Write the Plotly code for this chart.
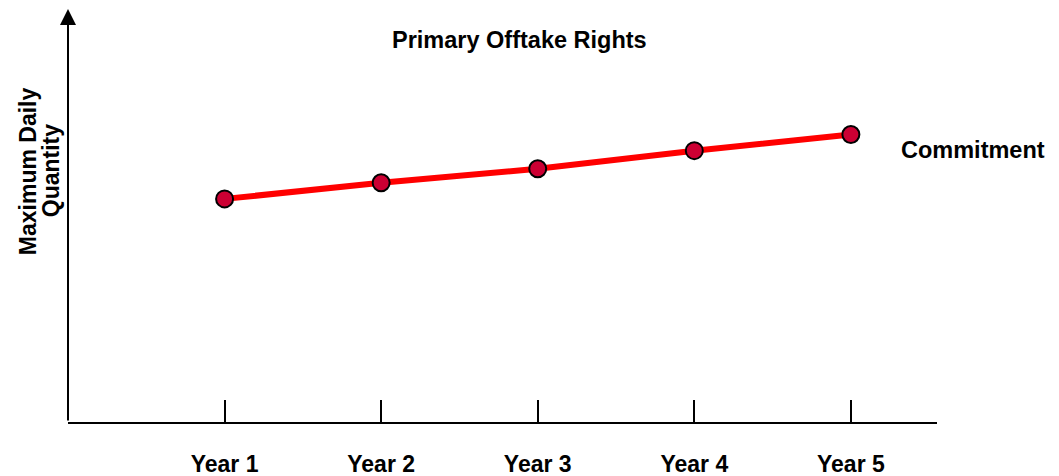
import plotly.graph_objects as go

years = [1, 2, 3, 4, 5]
year_labels = ["Year 1", "Year 2", "Year 3", "Year 4", "Year 5"]
commitment = [55.5, 59.5, 63, 67.5, 71.5]

FONT = "Arial, Liberation Sans, sans-serif"

fig = go.Figure()

# Commitment line
fig.add_trace(go.Scatter(
    x=years, y=commitment, mode="lines+markers", name="Commitment",
    line=dict(color="#FF0000", width=6),
    marker=dict(size=17, color="#CC0033", line=dict(color="black", width=2)),
    cliponaxis=False,
))

# Axis arrow on the left
fig.add_annotation(
    xref="paper", yref="paper", x=0, y=1.0323, ax=0, ay=415,
    axref="pixel", ayref="pixel", text="", showarrow=True,
    arrowhead=2, arrowsize=1.6, arrowwidth=2, arrowcolor="black",
)

fig.add_annotation(
    xref="paper", yref="paper", x=0.52, y=0.95, text="<b>Primary Offtake Rights</b>",
    showarrow=False, xanchor="center", yanchor="middle",
    font=dict(family=FONT, size=23.5, color="black"),
)
fig.add_annotation(
    xref="paper", yref="paper", x=0.9563, y=0.6766, text="<b>Commitment</b>",
    showarrow=False, xanchor="left", yanchor="middle",
    font=dict(family=FONT, size=23.5, color="black"),
)
# y title, two lines
fig.add_annotation(
    xref="paper", yref="paper", x=-0.046, y=0.624,
    text="<b>Maximum Daily</b>", textangle=-90,
    showarrow=False, xanchor="center", yanchor="middle",
    font=dict(family=FONT, size=23, color="black"),
)
fig.add_annotation(
    xref="paper", yref="paper", x=-0.0195, y=0.624,
    text="<b>Quantity</b>", textangle=-90,
    showarrow=False, xanchor="center", yanchor="middle",
    font=dict(family=FONT, size=23, color="black"),
)

fig.update_xaxes(
    range=[0, 5.55], tickvals=years, ticktext=["<b>%s</b>" % t for t in year_labels],
    ticks="inside", ticklen=22, tickwidth=2, tickcolor="black",
    showline=True, linewidth=2, linecolor="black",
    showgrid=False, zeroline=False, ticklabelstandoff=20,
    tickfont=dict(family=FONT, size=23, color="black"),
)
fig.update_yaxes(
    range=[0, 100], showticklabels=False, showgrid=False, zeroline=False,
    showline=False, ticks="",
)

# page body has an 8px margin, so margins are shifted to compensate
fig.update_layout(
    width=1059, height=476,
    margin=dict(l=60, r=130, t=12, b=62, autoexpand=False),
    plot_bgcolor="white", paper_bgcolor="white",
    showlegend=False,
    font=dict(family=FONT, color="black"),
)

fig.write_html("out.html")
